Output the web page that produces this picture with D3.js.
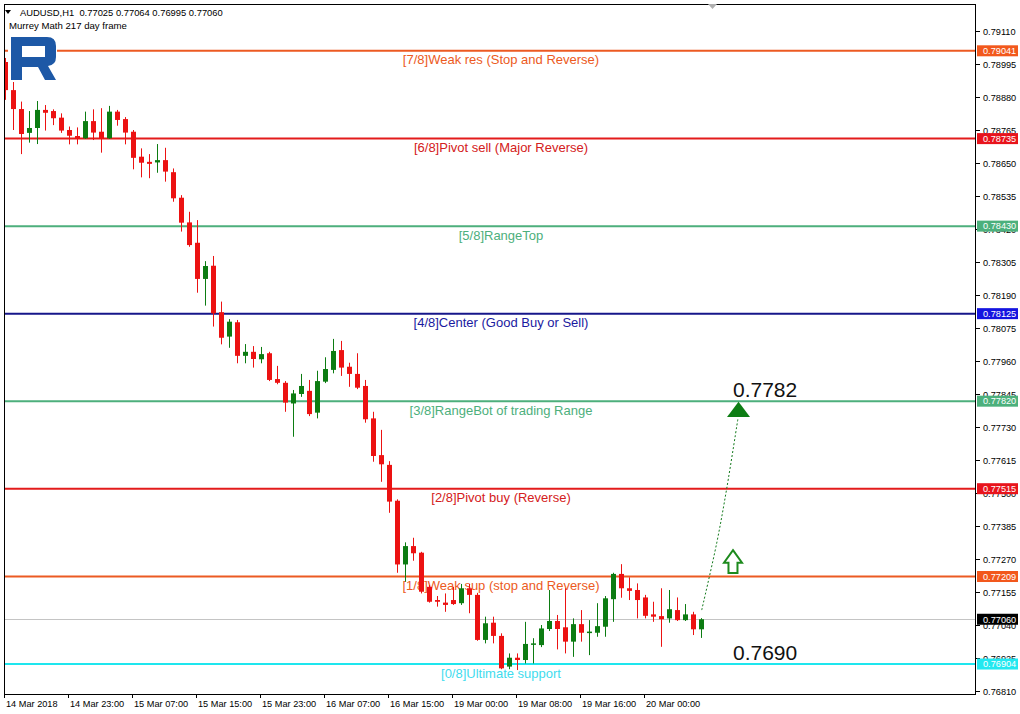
<!DOCTYPE html>
<html><head><meta charset="utf-8">
<script src="https://cdn.jsdelivr.net/npm/d3@7/dist/d3.min.js"></script>
<style>
body{margin:0;background:#fff}
svg{display:block}
text{font-family:"Liberation Sans",Arial,sans-serif}
</style>
</head><body>
<svg id="chart" width="1020" height="714"></svg>
<script>
// ---------------- DATA ----------------
const symbolTitle = "AUDUSD,H1";
const headerValues = ["0.77025", "0.77064", "0.76995", "0.77060"];
const indicatorTitle = "Murrey Math 217 day frame";

const opens  = [0.79002,0.78904,0.78838,0.78755,0.78772,0.78835,0.78831,0.78808,0.78765,0.78744,
                0.78736,0.78796,0.78759,0.78736,0.78829,0.78803,0.78759,0.78672,0.78654,0.78652,
                0.78660,0.78618,0.78529,0.78443,0.78372,0.78246,0.78292,0.78130,0.78045,0.78095,
                0.77978,0.77992,0.77966,0.77987,0.77897,0.77884,0.77812,0.77845,0.77856,0.77780,
                0.77888,0.77929,0.77998,0.77940,0.77915,0.77873,0.77760,0.77632,0.77598,0.77473,
                0.77251,0.77315,0.77292,0.77173,0.77127,0.77118,0.77127,0.77116,0.77168,0.77145,
                0.76988,0.77048,0.77002,0.76895,0.76926,0.76918,0.76971,0.76970,0.77026,0.77054,
                0.77032,0.76982,0.77043,0.77013,0.77013,0.77034,0.77130,0.77218,0.77168,0.77162,
                0.77136,0.77077,0.77071,0.77063,0.77092,0.77057,0.77077,0.77025];
const highs  = [0.79016,0.78933,0.78864,0.78831,0.78866,0.78852,0.78837,0.78823,0.78777,0.78774,
                0.78829,0.78837,0.78841,0.78849,0.78835,0.78810,0.78765,0.78701,0.78681,0.78716,
                0.78703,0.78631,0.78538,0.78480,0.78451,0.78308,0.78326,0.78167,0.78106,0.78103,
                0.78019,0.78012,0.78009,0.77992,0.77943,0.77890,0.77859,0.77915,0.77894,0.77926,
                0.77973,0.78037,0.78030,0.77954,0.77987,0.77894,0.77783,0.77720,0.77611,0.77478,
                0.77328,0.77344,0.77295,0.77179,0.77141,0.77150,0.77173,0.77183,0.77183,0.77152,
                0.77069,0.77069,0.77011,0.76941,0.76941,0.77051,0.76994,0.77040,0.77162,0.77075,
                0.77168,0.77063,0.77092,0.77057,0.77116,0.77141,0.77222,0.77252,0.77206,0.77185,
                0.77145,0.77121,0.77168,0.77162,0.77136,0.77113,0.77086,0.77064];
const lows   = [0.78870,0.78765,0.78681,0.78721,0.78716,0.78763,0.78782,0.78755,0.78715,0.78715,
                0.78734,0.78730,0.78686,0.78734,0.78780,0.78715,0.78628,0.78600,0.78597,0.78616,
                0.78585,0.78515,0.78411,0.78358,0.78198,0.78153,0.78080,0.78018,0.78006,0.77952,
                0.77952,0.77937,0.77952,0.77890,0.77879,0.77783,0.77696,0.77835,0.77768,0.77760,
                0.77883,0.77917,0.77908,0.77870,0.77862,0.77745,0.77609,0.77539,0.77431,0.77222,
                0.77191,0.77264,0.77150,0.77118,0.77104,0.77086,0.77110,0.77110,0.77081,0.76985,
                0.76976,0.76976,0.76886,0.76886,0.76883,0.76906,0.76906,0.76963,0.77019,0.76955,
                0.76941,0.76929,0.76982,0.76935,0.76999,0.76999,0.77051,0.77135,0.77127,0.77063,
                0.77063,0.77051,0.76964,0.77048,0.77054,0.77054,0.77005,0.76995];
const closes = [0.78904,0.78838,0.78751,0.78772,0.78835,0.78825,0.78806,0.78763,0.78745,0.78734,
                0.78796,0.78756,0.78734,0.78829,0.78800,0.78756,0.78668,0.78651,0.78647,0.78660,
                0.78620,0.78527,0.78442,0.78364,0.78246,0.78291,0.78126,0.78041,0.78097,0.77978,
                0.77992,0.77967,0.77984,0.77894,0.77884,0.77815,0.77847,0.77873,0.77775,0.77890,
                0.77932,0.77995,0.77937,0.77915,0.77867,0.77757,0.77629,0.77600,0.77470,0.77251,
                0.77315,0.77290,0.77156,0.77121,0.77121,0.77110,0.77113,0.77168,0.77145,0.76988,
                0.77046,0.77002,0.76889,0.76926,0.76918,0.76974,0.76976,0.77028,0.77054,0.77026,
                0.76982,0.77043,0.77013,0.77017,0.77036,0.77133,0.77218,0.77168,0.77159,0.77127,
                0.77072,0.77069,0.77060,0.77095,0.77057,0.77077,0.77025,0.77060];

const timeLabels = ["14 Mar 2018","14 Mar 23:00","15 Mar 07:00","15 Mar 15:00","15 Mar 23:00",
                    "16 Mar 07:00","16 Mar 15:00","19 Mar 00:00","19 Mar 08:00","19 Mar 16:00","20 Mar 00:00"];
const barsPerLabel = 8;

const priceTicks = [0.79110,0.78995,0.78880,0.78765,0.78650,0.78535,0.78420,0.78305,0.78190,0.78075,
                    0.77960,0.77845,0.77730,0.77615,0.77500,0.77385,0.77270,0.77155,0.77040,0.76925,0.76810];

const levelValues = [0.79041,0.78735,0.78430,0.78125,0.77820,0.77515,0.77209,0.76904];
const levelNames  = ["[7/8]Weak res (Stop and Reverse)","[6/8]Pivot sell (Major Reverse)","[5/8]RangeTop",
                     "[4/8]Center (Good Buy or Sell)","[3/8]RangeBot of trading Range","[2/8]Pivot buy (Reverse)",
                     "[1/8]Weak sup (stop and Reverse)","[0/8]Ultimate support"];
const lastPrice = 0.77060;

const targetLabel = "0.7782", supportLabel = "0.7690";
const targetPrice = 0.7782, supportPrice = 0.7690;
const forecastBars   = [87.05, 88.93, 90.18, 91.59];
const forecastPrices = [0.77092, 0.77326, 0.77516, 0.77761];
const signalBar = 90.96, signalTop = 0.77301, signalBottom = 0.77221;

// ---------------- STYLE ----------------
const lineColors = ["#ec5a22","#e31b1b","#4daf7c","#16168a","#4daf7c","#e31b1b","#ec5a22","#1ee6ee"];
const textColors = ["#ec5a22","#d42020","#4daf7c","#1a1aa0","#4daf7c","#d42020","#ec5a22","#3fdcee"];
const boxColors  = ["#f2581c","#e8141c","#4cb07c","#1414e0","#4cb07c","#e8141c","#f2581c","#22e8f0"];
const upColor = "#0c7c12", downColor = "#ec1212";

const svg = d3.select("#chart");
const L = 4, R = 976, T = 4, B = 694;

const x = d3.scaleLinear().domain([0, 1]).range([5.3, 13.3]);
const y = d3.scaleLinear().domain([0.76810, 0.79110]).range([691, 31]);

svg.append("defs").append("clipPath").attr("id","plot")
  .append("rect").attr("x",L).attr("y",T).attr("width",R-L).attr("height",B-T);

const plot = svg.append("g").attr("clip-path","url(#plot)");

// current price line
plot.append("line").attr("x1",L).attr("x2",R)
  .attr("y1",Math.round(y(lastPrice))+0.5).attr("y2",Math.round(y(lastPrice))+0.5)
  .attr("stroke","#c4c4c4").attr("stroke-width",1);

// level lines
levelValues.forEach((v,i)=>{
  const yy = y(v);
  plot.append("line").attr("x1",L).attr("x2",R).attr("y1",yy).attr("y2",yy)
    .attr("stroke",lineColors[i]).attr("stroke-width",2);
  plot.append("text").attr("x",501).attr("y",yy+13.5).attr("text-anchor","middle")
    .attr("font-size",13).attr("fill",textColors[i]).text(levelNames[i]);
});

// candles
const data = opens.map((o,i)=>({i,o,h:highs[i],l:lows[i],c:closes[i]}));
const cg = plot.append("g");
cg.selectAll("line.w").data(data).enter().append("line")
  .attr("x1",d=>Math.round(x(d.i))+0.5).attr("x2",d=>Math.round(x(d.i))+0.5)
  .attr("y1",d=>y(d.h)).attr("y2",d=>y(d.l))
  .attr("stroke",d=>d.c>=d.o?upColor:downColor).attr("stroke-width",1);
cg.selectAll("rect.b").data(data).enter().append("rect")
  .attr("x",d=>Math.round(x(d.i))-2)
  .attr("width",5)
  .attr("y",d=>y(Math.max(d.o,d.c)))
  .attr("height",d=>Math.max(1.5, Math.abs(y(d.o)-y(d.c))))
  .attr("fill",d=>d.c>=d.o?upColor:downColor);

// forecast dashed path
const fpts = forecastBars.map((b,i)=>[x(b), y(forecastPrices[i])]);
plot.append("path").attr("d", d3.line().curve(d3.curveCatmullRom)(fpts))
  .attr("fill","none").attr("stroke","#137a1c").attr("stroke-width",1).attr("stroke-dasharray","2,2");
// arrow head
const ax = x(forecastBars[3]) + 0.5, ayTop = y(targetPrice) + 0.5, ayBase = y(forecastPrices[3]) - 1;
plot.append("path").attr("d",`M${ax},${ayTop} L${ax-11.5},${ayBase} L${ax+11.5},${ayBase} Z`)
  .attr("fill","#0d7d14");
// hollow signal arrow
const sx = x(signalBar), st = y(signalTop), sb = y(signalBottom);
const hb = st + (sb-st)*0.55;
plot.append("path").attr("d",
  `M${sx},${st} L${sx+9},${hb} L${sx+4.5},${hb} L${sx+4.5},${sb} L${sx-4.5},${sb} L${sx-4.5},${hb} L${sx-9},${hb} Z`)
  .attr("fill","#fff").attr("stroke","#1d8a1d").attr("stroke-width",2).attr("stroke-linejoin","miter");

// big labels
plot.append("text").attr("x",x(signalBar)).attr("y",y(targetPrice)-4)
  .attr("font-size",21).attr("fill","#111").text(targetLabel);
plot.append("text").attr("x",x(signalBar)).attr("y",y(supportPrice)-5)
  .attr("font-size",21).attr("fill","#111").text(supportLabel);

// logo (on white backing)
const logo = svg.append("g");
logo.append("rect").attr("x",8).attr("y",34).attr("width",49).attr("height",48).attr("fill","#fff");
logo.append("path").attr("fill-rule","evenodd").attr("fill","#1d58a6")
  .attr("d","M11,37 H47 Q56,37 56,46 V57 Q56,65 48,66 L56,80 H45 L38,67 H22 V80 H11 Z M22,46 H45 V57 H22 Z");

// frame
svg.append("rect").attr("x",L+0.5).attr("y",T+0.5).attr("width",R-L-1).attr("height",B-T)
  .attr("fill","none").attr("stroke","#000").attr("stroke-width",1);
// small shift marker on top border
svg.append("path").attr("d","M708,4 L717,4 L712.5,9 Z").attr("fill","#b0b0b0");

// header
svg.append("path").attr("d","M5,10 L11,10 L8,14 Z").attr("fill","#000");
svg.append("text").attr("x",20).attr("y",15.5).attr("font-size",9.4).attr("fill","#000")
  .attr("xml:space","preserve")
  .text(symbolTitle + "  " + headerValues.join(" "));
svg.append("text").attr("x",9).attr("y",28.5).attr("font-size",9.6).attr("fill","#000").text(indicatorTitle);

// right price axis
const ra = svg.append("g");
priceTicks.forEach(v=>{
  const yy = Math.round(y(v))+0.5;
  ra.append("line").attr("x1",R).attr("x2",R+4).attr("y1",yy).attr("y2",yy).attr("stroke","#000");
  ra.append("text").attr("x",983).attr("y",yy+3.3).attr("font-size",9.2).attr("fill","#000").text(v.toFixed(5));
});
// level price boxes
const boxes = levelValues.map((v,i)=>({v,c:boxColors[i]})).concat([{v:lastPrice,c:"#000"}]);
boxes.forEach(b=>{
  const yy = y(b.v);
  ra.append("rect").attr("x",977).attr("y",yy-5.5).attr("width",41).attr("height",11).attr("fill",b.c);
  ra.append("text").attr("x",983).attr("y",yy+3.3).attr("font-size",9.2).attr("fill","#fff").text(b.v.toFixed(5));
});

// bottom time axis
const ba = svg.append("g");
timeLabels.forEach((t,j)=>{
  const xx = Math.round(x(j*barsPerLabel)) - 0.5;
  ba.append("line").attr("x1",xx).attr("x2",xx).attr("y1",B).attr("y2",B+4).attr("stroke","#000");
  ba.append("text").attr("x",xx+1.5).attr("y",707).attr("font-size",9.2).attr("fill","#000").text(t);
});
</script>
</body></html>
